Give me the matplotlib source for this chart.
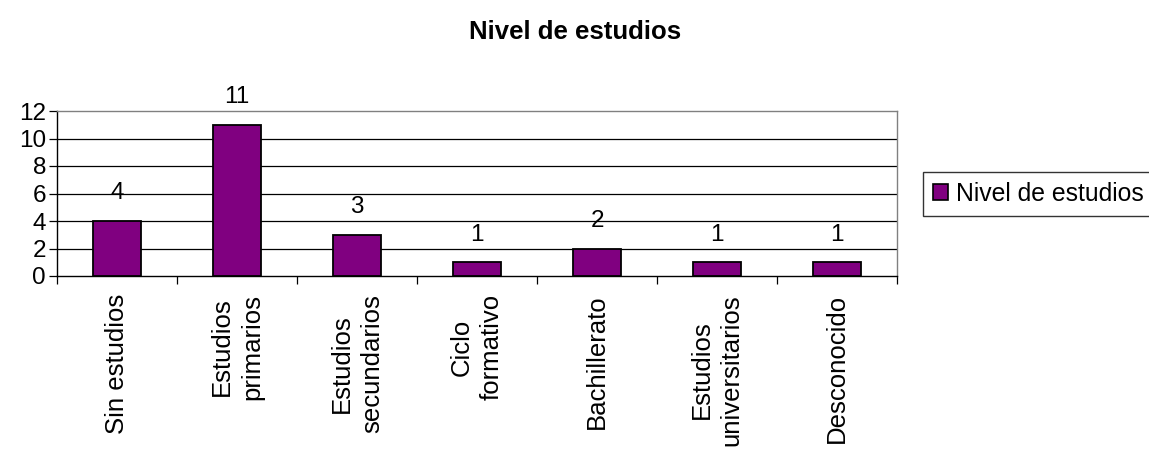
import matplotlib
matplotlib.use("Agg")
import matplotlib.pyplot as plt
from matplotlib.patches import Patch
import numpy as np

categories = ["Sin estudios", "Estudios\nprimarios", "Estudios\nsecundarios", "Ciclo\nformativo",
              "Bachillerato", "Estudios\nuniversitarios", "Desconocido"]
values = [4, 11, 3, 1, 2, 1, 1]
yticks = [0, 2, 4, 6, 8, 10, 12]
series_name = "Nivel de estudios"
title = "Nivel de estudios"

plt.rcParams['font.family'] = ['Liberation Sans', 'DejaVu Sans']
FS = 17.5

W, H = 1149, 463
fig = plt.figure(figsize=(W/100, H/100), dpi=100)
left, right, top, bottom = 57, 897, 111, 276
ax = fig.add_axes([left/W, 1-bottom/H, (right-left)/W, (bottom-top)/H])

x = np.arange(len(categories))
bars = ax.bar(x, values, width=0.4, color='#800080', edgecolor='black', linewidth=1.3, zorder=3)
ax.set_xlim(-0.5, len(categories)-0.5)
ax.set_ylim(0, 12)
ax.set_yticks(yticks)
ax.set_yticklabels([str(t) for t in yticks], fontsize=FS)
for t in yticks[1:-1]:
    ax.axhline(t, color='black', linewidth=0.9, zorder=1)

ax.set_xticks(np.arange(len(categories)+1)-0.5)
ax.set_xticklabels([])
ax.set_xticks(x, minor=True)
ax.set_xticklabels(categories, minor=True, rotation=90, fontsize=18.5,
                   ha='center', va='top', multialignment='center', linespacing=1.3)
ax.tick_params(axis='x', which='minor', length=0, pad=13)
ax.tick_params(axis='x', which='major', length=6, width=0.9, direction='out')
ax.tick_params(axis='y', length=6, width=0.9, direction='out', pad=2)

for s in ['top', 'right']:
    ax.spines[s].set_color('#808080')
    ax.spines[s].set_linewidth(1.0)
for s in ['left', 'bottom']:
    ax.spines[s].set_color('black')
    ax.spines[s].set_linewidth(1.0)

for xi, v in zip(x, values):
    ax.annotate(str(v), (xi, v), xytext=(0, 12), textcoords='offset points',
                ha='center', va='bottom', fontsize=FS)

fig.text(575/W, 1-32/H, title, ha='center', va='center',
         fontsize=18.5, fontweight='bold')

handle = Patch(facecolor='#800080', edgecolor='black', linewidth=1.2)
leg = fig.legend([handle], [series_name], loc='upper left',
                 bbox_to_anchor=(923/W, 1-172/H), fontsize=17.8, frameon=True,
                 fancybox=False, edgecolor='black', handlelength=0.6, handleheight=0.6,
                 handletextpad=0.32, borderpad=0.4, borderaxespad=0)
leg.get_frame().set_linewidth(1.0)

fig.savefig("out.png", dpi=100)
